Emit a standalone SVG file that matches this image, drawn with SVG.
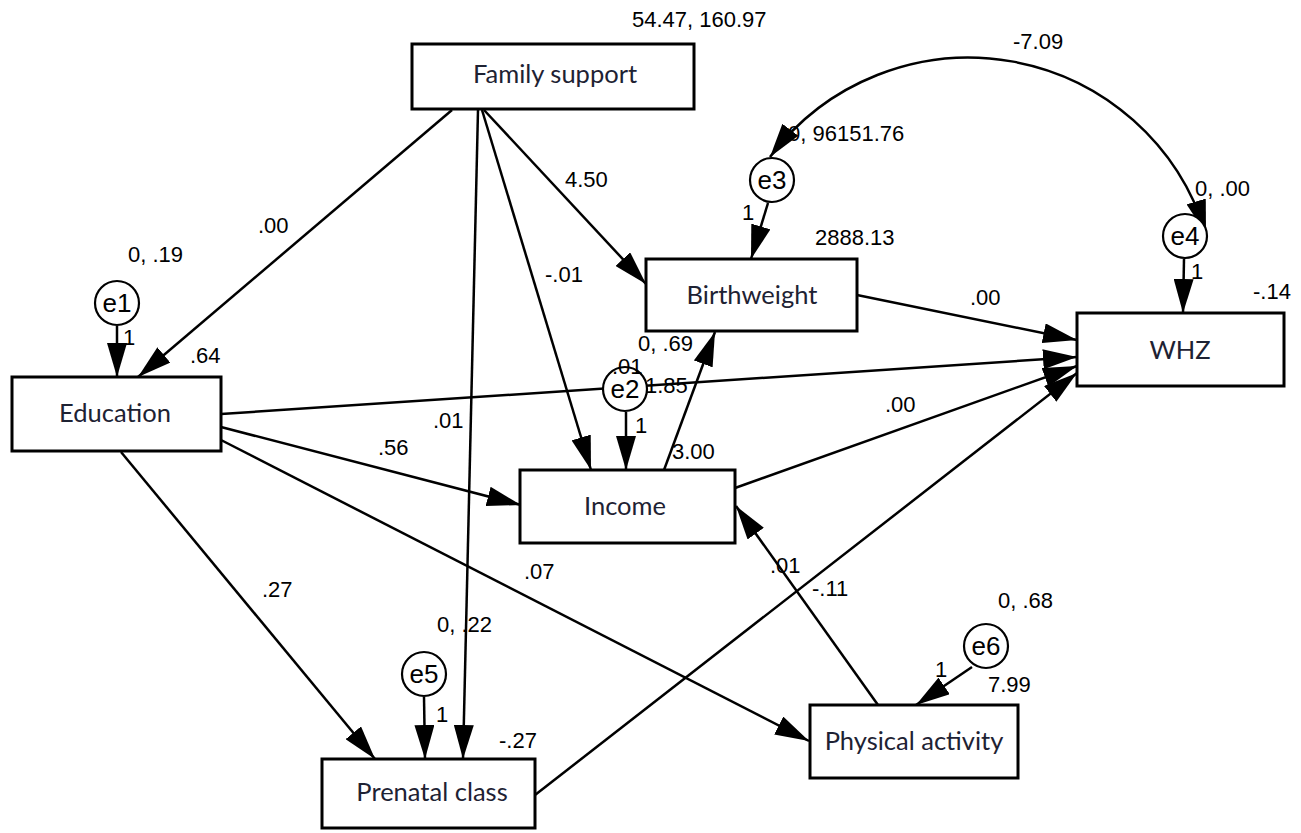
<svg xmlns="http://www.w3.org/2000/svg" width="1301" height="833" viewBox="0 0 1301 833">
<defs>
<style>
.box{fill:#fff;stroke:#000;stroke-width:3}
.err{fill:#fff;stroke:#000;stroke-width:2.2}
.lbl{font-family:Lato,"Open Sans",sans-serif;font-size:25.5px;fill:#1e2233;text-anchor:middle}
.num{font-family:"Liberation Sans",Arial,sans-serif;font-size:22px;fill:#000}
.elbl{font-family:"Liberation Sans",Arial,sans-serif;font-size:26px;fill:#000;text-anchor:middle}
.ln{fill:none;stroke:#000;stroke-width:2.5;marker-end:url(#ah)}
.cov{fill:none;stroke:#000;stroke-width:2.5;marker-start:url(#ah);marker-end:url(#ah)}
</style>
<marker id="ah" viewBox="0 0 34 20" refX="34" refY="10" markerWidth="34" markerHeight="20" markerUnits="userSpaceOnUse" orient="auto-start-reverse">
<path d="M0,0 L34,10 L0,20 z" fill="#000"/>
</marker>
</defs>
<rect width="1301" height="833" fill="#fff"/>

<g id="connectors">
<line class="ln" x1="452" y1="110" x2="138" y2="377"/>
<line class="ln" x1="478" y1="110" x2="463" y2="759"/>
<line class="ln" x1="482" y1="110" x2="591" y2="470"/>
<line class="ln" x1="484" y1="110" x2="646" y2="284"/>
<line class="ln" x1="221" y1="414" x2="1077" y2="357"/>
<line class="ln" x1="221" y1="427" x2="521" y2="505"/>
<line class="ln" x1="221" y1="440" x2="809" y2="741"/>
<line class="ln" x1="121" y1="452" x2="375" y2="759"/>
<line class="ln" x1="664" y1="470" x2="715" y2="332"/>
<line class="ln" x1="735" y1="488" x2="1077" y2="366"/>
<line class="ln" x1="857" y1="295" x2="1077" y2="340"/>
<line class="ln" x1="535" y1="795" x2="1077" y2="373"/>
<line class="ln" x1="878" y1="705" x2="736" y2="506"/>
<line class="ln" x1="117" y1="326" x2="117" y2="377"/>
<line class="ln" x1="626" y1="412" x2="626" y2="470"/>
<line class="ln" x1="768" y1="203" x2="751" y2="259"/>
<line class="ln" x1="1184" y1="259" x2="1183" y2="313"/>
<line class="ln" x1="424" y1="697" x2="425" y2="759"/>
<line class="ln" x1="972" y1="667" x2="916" y2="705"/>
<path class="cov" d="M770,157 A248,248 0 0 1 1206,234"/>
</g>

<g id="family-support">
<rect class="box" x="412" y="44" width="282" height="65"/>
<text class="lbl" x="555" y="83">Family support</text>
<text class="num" x="632" y="27">54.47, 160.97</text>
</g>

<g id="birthweight">
<rect class="box" x="646" y="259" width="211" height="72"/>
<text class="lbl" x="752" y="304">Birthweight</text>
<text class="num" x="815" y="245">2888.13</text>
</g>

<g id="whz">
<rect class="box" x="1077" y="313" width="207" height="73"/>
<text class="lbl" x="1180" y="359">WHZ</text>
<text class="num" x="1253" y="299">-.14</text>
</g>

<g id="education">
<rect class="box" x="12" y="377" width="209" height="74"/>
<text class="lbl" x="115" y="422">Education</text>
<text class="num" x="190" y="363">.64</text>
</g>

<g id="income">
<rect class="box" x="520" y="470" width="215" height="73"/>
<text class="lbl" x="625" y="515">Income</text>
<text class="num" x="672" y="459">3.00</text>
</g>

<g id="prenatal-class">
<rect class="box" x="322" y="759" width="213" height="69"/>
<text class="lbl" x="432" y="801">Prenatal class</text>
<text class="num" x="499" y="748">-.27</text>
</g>

<g id="physical-activity">
<rect class="box" x="810" y="705" width="208" height="73"/>
<text class="lbl" x="914" y="750">Physical activity</text>
<text class="num" x="988" y="692">7.99</text>
</g>

<g id="e1">
<circle class="err" cx="117" cy="303" r="22"/>
<text class="elbl" x="117" y="312">e1</text>
<text class="num" x="128" y="262">0, .19</text>
<text class="num" x="123" y="345">1</text>
</g>

<g id="e2">
<circle class="err" cx="625" cy="389" r="22"/>
<text class="elbl" x="625" y="398">e2</text>
<text class="num" x="638" y="351">0, .69</text>
<text class="num" x="635" y="433">1</text>
</g>

<g id="e3">
<circle class="err" cx="772" cy="180" r="22"/>
<text class="elbl" x="772" y="189">e3</text>
<text class="num" x="788" y="141">0, 96151.76</text>
<text class="num" x="742" y="220">1</text>
</g>

<g id="e4">
<circle class="err" cx="1185" cy="236" r="22"/>
<text class="elbl" x="1185" y="245">e4</text>
<text class="num" x="1195" y="196">0, .00</text>
<text class="num" x="1191" y="279">1</text>
</g>

<g id="e5">
<circle class="err" cx="424" cy="674" r="22"/>
<text class="elbl" x="424" y="683">e5</text>
<text class="num" x="437" y="632">0, .22</text>
<text class="num" x="436" y="722">1</text>
</g>

<g id="e6">
<circle class="err" cx="986" cy="646" r="22"/>
<text class="elbl" x="986" y="655">e6</text>
<text class="num" x="998" y="608">0, .68</text>
<text class="num" x="935" y="677">1</text>
</g>

<g id="path-labels">
<text class="num" x="258" y="233">.00</text>
<text class="num" x="565" y="187">4.50</text>
<text class="num" x="545" y="282">-.01</text>
<text class="num" x="433" y="428">.01</text>
<text class="num" x="378" y="455">.56</text>
<text class="num" x="262" y="597">.27</text>
<text class="num" x="524" y="579">.07</text>
<text class="num" x="612" y="374">.01</text>
<text class="num" x="645" y="393">1.85</text>
<text class="num" x="885" y="412">.00</text>
<text class="num" x="970" y="305">.00</text>
<text class="num" x="770" y="573">.01</text>
<text class="num" x="812" y="596">-.11</text>
<text class="num" x="1013" y="49">-7.09</text>
</g>
</svg>
